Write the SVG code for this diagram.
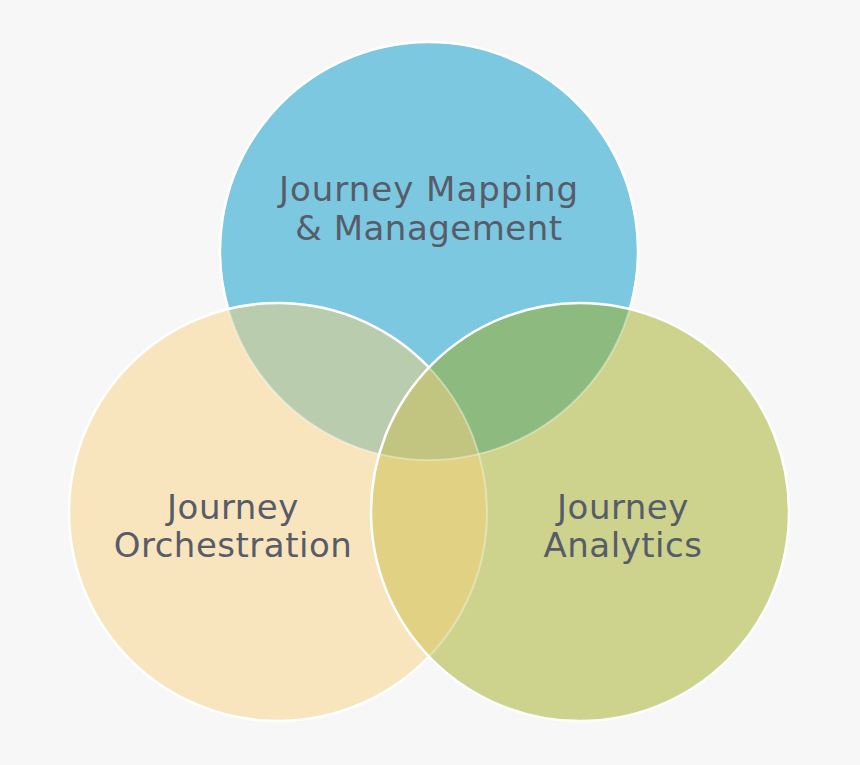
<svg xmlns="http://www.w3.org/2000/svg" width="860" height="765" viewBox="0 0 860 765">
<style>
.lbl{font-family:"DejaVu Sans","Noto Sans",sans-serif;font-size:34px;fill:#575c69;text-anchor:middle;letter-spacing:0.5px}
.wide{letter-spacing:1px}
.edge{fill:none;stroke:#ffffff;stroke-width:2.5}
.faint{fill:none;stroke:#ffffff;stroke-width:2;stroke-opacity:0.35}
</style>
<defs>
<clipPath id="cT"><circle cx="429" cy="251" r="209"/></clipPath>
<clipPath id="cL"><circle cx="278" cy="512" r="209"/></clipPath>
<clipPath id="cR"><circle cx="580" cy="512" r="209"/></clipPath>
</defs>
<rect width="860" height="765" fill="#f7f7f7"/>
<g id="node-mapping">
<circle cx="429" cy="251" r="209" fill="#7cc8e0"/>
</g>
<g id="node-orchestration">
<circle cx="278" cy="512" r="209" fill="#f9e5bd"/>
</g>
<g id="node-analytics">
<circle cx="580" cy="512" r="209" fill="#cdd38d"/>
</g>
<g id="overlaps">
<g clip-path="url(#cT)"><circle cx="278" cy="512" r="209" fill="#b9cdae"/></g>
<g clip-path="url(#cT)"><circle cx="580" cy="512" r="209" fill="#8dbb7f"/></g>
<g clip-path="url(#cL)"><circle cx="580" cy="512" r="209" fill="#e1d183"/></g>
<g clip-path="url(#cT)"><g clip-path="url(#cL)"><circle cx="580" cy="512" r="209" fill="#c1c57f"/></g></g>
</g>
<g id="outlines">
<circle class="faint" cx="429" cy="251" r="209"/>
<circle class="faint" cx="278" cy="512" r="209"/>
<path class="edge" d="M228.2,309 A209,209 0 1,1 629.8,309"/>
<path class="edge" d="M429,367.5 A209,209 0 1,0 429,656.5"/>
<circle class="edge" cx="580" cy="512" r="209"/>
</g>
<g id="labels">
<text class="lbl wide" x="429" y="201">Journey Mapping</text>
<text class="lbl" x="429" y="240">&amp; Management</text>
<text class="lbl" x="233" y="519">Journey</text>
<text class="lbl" x="233" y="557">Orchestration</text>
<text class="lbl" x="623" y="519">Journey</text>
<text class="lbl" x="623" y="557">Analytics</text>
</g>
</svg>
